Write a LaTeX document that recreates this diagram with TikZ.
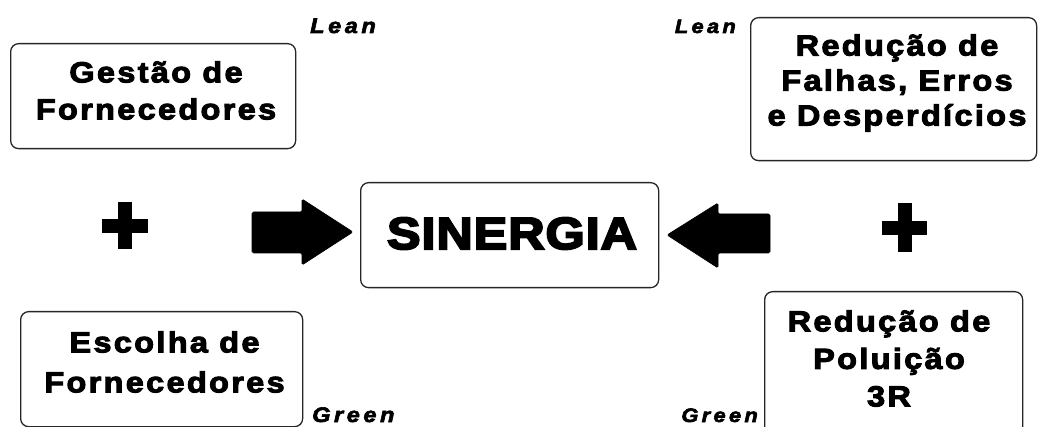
\documentclass[tikz,border=0pt]{standalone}
\usepackage{fontspec}
\newfontfamily\blk{Liberation Sans Bold}[LetterSpace=8,FakeStretch=1.12,FakeBold=3.5]
\newfontfamily\blkbig{Liberation Sans Bold}[LetterSpace=2,FakeStretch=1.12,FakeBold=4.5]
\newfontfamily\tagf{Liberation Sans Bold Italic}[LetterSpace=17,FakeStretch=1.12,FakeBold=3]
\begin{document}
\begin{tikzpicture}[x=1pt,y=-1pt,
  box/.style={draw=black!85, line width=1.3pt, rounded corners=8pt, anchor=north west, inner sep=0pt},
  txt/.style={align=center, inner sep=0pt, font=\blk\fontsize{29}{37}\selectfont},
  tagtxt/.style={anchor=base west, inner sep=0pt, font=\tagf\fontsize{21}{24}\selectfont},
  tagsmall/.style={tagtxt, anchor=base east, font=\tagf\fontsize{19.5}{22}\selectfont},
  blockarrow/.style={fill=black, draw=black, line width=0.6pt, rounded corners=1.5pt},
  plusbar/.style={fill=black}]
\useasboundingbox (0,0) rectangle (1038,427);
\clip (0,0) rectangle (1038,427);
% boxes
\node[box, minimum width=285pt, minimum height=105pt] (b1) at (10,43) {};
\node[box, minimum width=286pt, minimum height=143pt] (b2) at (750,17) {};
\node[box, minimum width=298pt, minimum height=105pt] (bs) at (360,182) {};
\node[box, minimum width=282pt, minimum height=115pt] (b3) at (20,311) {};
\node[box, minimum width=258pt, minimum height=150pt] (b4) at (764,291) {};
% texts
\node[txt] (t1) at (156,90.5) {Gestão de\\Fornecedores};
\node[txt, font=\blk\fontsize{29}{35}\selectfont] (t2) at (897,83) {Redução de\\Falhas, Erros\\e Desperdícios};
\node[txt, font=\blkbig\fontsize{45}{50}\selectfont, anchor=base] (ts) at (512,249) {SINERGIA};
\node[txt, font=\blk\fontsize{29}{40}\selectfont] (t3) at (164.5,362) {Escolha de\\Fornecedores};
\node[txt, font=\blk\fontsize{29}{37.5}\selectfont] (t4) at (889,358.5) {Redução de\\Poluição\\3R};
% tags
\node[tagtxt] (l1) at (310,33) {Lean};
\node[tagsmall] (l2) at (736,33) {Lean};
\node[tagtxt] (g1) at (312,422) {Green};
\node[tagsmall] (g2) at (758,422) {Green};
% block arrows
\coordinate (rtip) at (353,232);
\coordinate (ltip) at (667,235);
\draw[blockarrow] (252,212) -- (302,212) -- (302,199) -- (rtip) -- (302,265) -- (302,253) -- (252,253) -- cycle;
\draw[blockarrow] (770,214) -- (718,214) -- (718,203) -- (ltip) -- (718,268) -- (718,253) -- (770,253) -- cycle;
% plus signs
\fill[plusbar] (102,219) rectangle (148,233);
\fill[plusbar] (118,202) rectangle (132,249);
\fill[plusbar] (882,221) rectangle (927,235);
\fill[plusbar] (898,203) rectangle (912,252);
\end{tikzpicture}
\end{document}
